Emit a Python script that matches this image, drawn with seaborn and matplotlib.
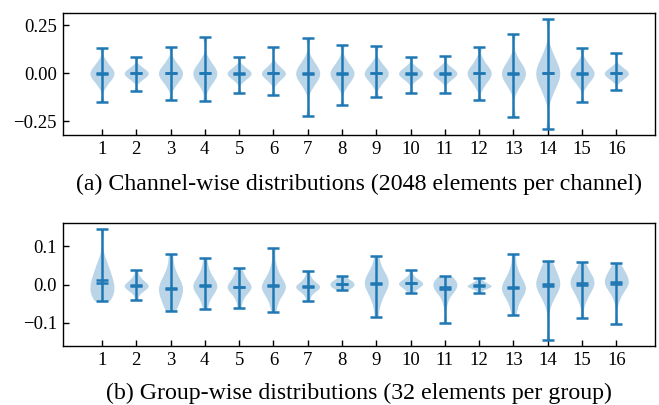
import numpy as np
import pandas as pd
import matplotlib
matplotlib.use("Agg")
import matplotlib.pyplot as plt
import seaborn as sns

# ---------------- data ----------------
positions = list(range(1, 17))
tick_labels = [str(p) for p in positions]

# (a) channel-wise: representative sample values per channel
channel_values = [
    [-0.149, -0.071, -0.048, -0.035, -0.025, -0.016, -0.008, 0.0, 0.008, 0.016, 0.025, 0.035, 0.048, 0.071, 0.134],
    [-0.091, -0.042, -0.029, -0.021, -0.015, -0.010, -0.005, 0.0, 0.005, 0.010, 0.015, 0.021, 0.029, 0.042, 0.086],
    [-0.141, -0.074, -0.050, -0.037, -0.026, -0.017, -0.008, 0.0, 0.008, 0.017, 0.026, 0.037, 0.050, 0.074, 0.139],
    [-0.143, -0.081, -0.055, -0.040, -0.029, -0.018, -0.009, 0.0, 0.009, 0.018, 0.029, 0.040, 0.055, 0.081, 0.187],
    [-0.100, -0.044, -0.030, -0.022, -0.016, -0.010, -0.005, 0.0, 0.005, 0.010, 0.016, 0.022, 0.030, 0.044, 0.086],
    [-0.112, -0.050, -0.034, -0.024, -0.017, -0.011, -0.005, 0.0, 0.005, 0.011, 0.017, 0.024, 0.034, 0.050, 0.137],
    [-0.222, -0.083, -0.056, -0.041, -0.029, -0.019, -0.009, 0.0, 0.009, 0.019, 0.029, 0.041, 0.056, 0.083, 0.184],
    [-0.165, -0.078, -0.053, -0.038, -0.027, -0.018, -0.008, 0.0, 0.008, 0.018, 0.027, 0.038, 0.053, 0.078, 0.147],
    [-0.122, -0.067, -0.046, -0.033, -0.024, -0.015, -0.007, 0.0, 0.007, 0.015, 0.024, 0.033, 0.046, 0.067, 0.141],
    [-0.100, -0.044, -0.030, -0.022, -0.016, -0.010, -0.005, 0.0, 0.005, 0.010, 0.016, 0.022, 0.030, 0.044, 0.086],
    [-0.103, -0.044, -0.030, -0.022, -0.016, -0.010, -0.005, 0.0, 0.005, 0.010, 0.016, 0.022, 0.030, 0.044, 0.089],
    [-0.141, -0.078, -0.053, -0.038, -0.027, -0.018, -0.008, 0.0, 0.008, 0.018, 0.027, 0.038, 0.053, 0.078, 0.136],
    [-0.225, -0.089, -0.060, -0.044, -0.031, -0.020, -0.010, 0.0, 0.010, 0.020, 0.031, 0.044, 0.060, 0.089, 0.204],
    [-0.291, -0.124, -0.084, -0.061, -0.043, -0.028, -0.013, 0.0, 0.013, 0.028, 0.043, 0.061, 0.084, 0.124, 0.285],
    [-0.149, -0.071, -0.048, -0.035, -0.025, -0.016, -0.008, 0.0, 0.008, 0.016, 0.025, 0.035, 0.048, 0.071, 0.130],
    [-0.088, -0.042, -0.029, -0.021, -0.015, -0.010, -0.005, 0.0, 0.005, 0.010, 0.015, 0.021, 0.029, 0.042, 0.105],
]

# (b) group-wise: representative sample values per group
group_values = [
    [-0.042, -0.036, -0.030, -0.024, -0.017, -0.010, -0.004, 0.004, 0.010, 0.017, 0.026, 0.038, 0.048, 0.065, 0.145],
    [-0.039, -0.022, -0.016, -0.012, -0.009, -0.006, -0.004, -0.003, -0.001, 0.002, 0.005, 0.009, 0.014, 0.021, 0.038],
    [-0.070, -0.058, -0.047, -0.038, -0.030, -0.023, -0.017, -0.011, -0.005, 0.001, 0.008, 0.016, 0.027, 0.045, 0.079],
    [-0.064, -0.042, -0.030, -0.022, -0.015, -0.010, -0.006, -0.003, 0.001, 0.006, 0.012, 0.019, 0.029, 0.043, 0.069],
    [-0.062, -0.040, -0.029, -0.021, -0.015, -0.011, -0.008, -0.006, -0.003, 0.001, 0.006, 0.012, 0.019, 0.028, 0.043],
    [-0.072, -0.048, -0.034, -0.024, -0.016, -0.011, -0.007, -0.005, -0.002, 0.003, 0.010, 0.019, 0.031, 0.050, 0.094],
    [-0.043, -0.028, -0.020, -0.015, -0.011, -0.009, -0.007, -0.006, -0.004, -0.001, 0.002, 0.006, 0.011, 0.019, 0.034],
    [-0.015, -0.011, -0.008, -0.006, -0.004, -0.002, 0.000, 0.002, 0.004, 0.006, 0.008, 0.010, 0.013, 0.017, 0.023],
    [-0.084, -0.052, -0.036, -0.024, -0.015, -0.008, -0.002, 0.003, 0.008, 0.013, 0.019, 0.026, 0.035, 0.048, 0.074],
    [-0.022, -0.014, -0.009, -0.006, -0.003, -0.001, 0.001, 0.003, 0.005, 0.007, 0.009, 0.012, 0.016, 0.023, 0.039],
    [-0.100, -0.050, -0.032, -0.022, -0.016, -0.012, -0.009, -0.006, -0.002, 0.002, 0.006, 0.010, 0.013, 0.017, 0.021],
    [-0.022, -0.014, -0.010, -0.008, -0.006, -0.005, -0.004, -0.003, -0.002, 0.000, 0.002, 0.004, 0.007, 0.011, 0.018],
    [-0.080, -0.055, -0.040, -0.030, -0.022, -0.016, -0.012, -0.009, -0.004, 0.002, 0.009, 0.017, 0.028, 0.045, 0.080],
    [-0.145, -0.050, -0.032, -0.020, -0.012, -0.006, -0.002, 0.001, 0.004, 0.012, 0.020, 0.028, 0.037, 0.047, 0.062],
    [-0.088, -0.045, -0.030, -0.020, -0.012, -0.006, -0.001, 0.003, 0.008, 0.013, 0.018, 0.024, 0.031, 0.041, 0.059],
    [-0.103, -0.040, -0.022, -0.012, -0.005, -0.001, 0.003, 0.006, 0.011, 0.016, 0.021, 0.027, 0.034, 0.043, 0.055],
]

channel_yticks = [-0.25, 0.0, 0.25]
group_yticks = [-0.1, 0.0, 0.1]
caption_a = "(a) Channel-wise distributions (2048 elements per channel)"
caption_b = "(b) Group-wise distributions (32 elements per group)"

# ---------------- style ----------------
sns.set_style("ticks")
plt.rcParams["font.family"] = ["Liberation Serif", "DejaVu Serif"]
plt.rcParams["mathtext.fontset"] = "stix"
plt.rcParams["axes.edgecolor"] = "black"
plt.rcParams["axes.linewidth"] = 1.0
plt.rcParams["text.color"] = "black"
plt.rcParams["axes.labelcolor"] = "black"

BLUE = "#1f77b4"
VIOLIN_WIDTH = 0.7
LW = 1.8


def long_frame(values):
    rows = []
    for p, vals in zip(positions, values):
        for v in vals:
            rows.append((p, v))
    return pd.DataFrame(rows, columns=["pos", "val"])


def draw_panel(ax, values, bw_adjust, yticks, caption, caption_y):
    df = long_frame(values)
    sns.violinplot(data=df, x="pos", y="val", native_scale=True, cut=0,
                   inner=None, width=VIOLIN_WIDTH, density_norm="width",
                   bw_adjust=bw_adjust, color=BLUE, saturation=1,
                   linewidth=0, alpha=0.3, ax=ax)
    pos = np.array(positions, dtype=float)
    mins = np.array([np.min(v) for v in values])
    maxs = np.array([np.max(v) for v in values])
    means = np.array([np.mean(v) for v in values])
    medians = np.array([np.median(v) for v in values])
    half = VIOLIN_WIDTH * 0.25
    ax.vlines(pos, mins, maxs, color=BLUE, lw=LW)
    for arr in (mins, maxs, means, medians):
        ax.hlines(arr, pos - half, pos + half, color=BLUE, lw=LW)

    lo, hi = pos.min() - VIOLIN_WIDTH / 2, pos.max() + VIOLIN_WIDTH / 2
    m = 0.05 * (hi - lo)
    ax.set_xlim(lo - m, hi + m)
    ylo, yhi = mins.min(), maxs.max()
    my = 0.05 * (yhi - ylo)
    ax.set_ylim(ylo - my, yhi + my)
    ax.set_xticks(positions)
    ax.set_xticklabels(tick_labels)
    ax.set_yticks(yticks)
    ax.set_ylabel("")
    ax.set_xlabel(caption, fontsize=17.2, color="black")
    ax.xaxis.set_label_coords(0.5, caption_y)
    ax.xaxis.label.set_va("center")
    ax.tick_params(direction="in", top=False, right=False, length=4,
                   width=1, labelsize=13.5, pad=4.5, colors="black")
    for s in ax.spines.values():
        s.set_visible(True)
        s.set_color("black")
        s.set_linewidth(1.0)


fig = plt.figure(figsize=(6.59, 4.05), dpi=100)
ax1 = fig.add_axes([0.0956, 0.667, 0.8987, 0.301])
ax2 = fig.add_axes([0.0956, 0.146, 0.8987, 0.303])

draw_panel(ax1, channel_values, 0.5, channel_yticks, caption_a, -0.41)
draw_panel(ax2, group_values, 0.75, group_yticks, caption_b, -0.385)

fig.savefig("out.png", dpi=100)
